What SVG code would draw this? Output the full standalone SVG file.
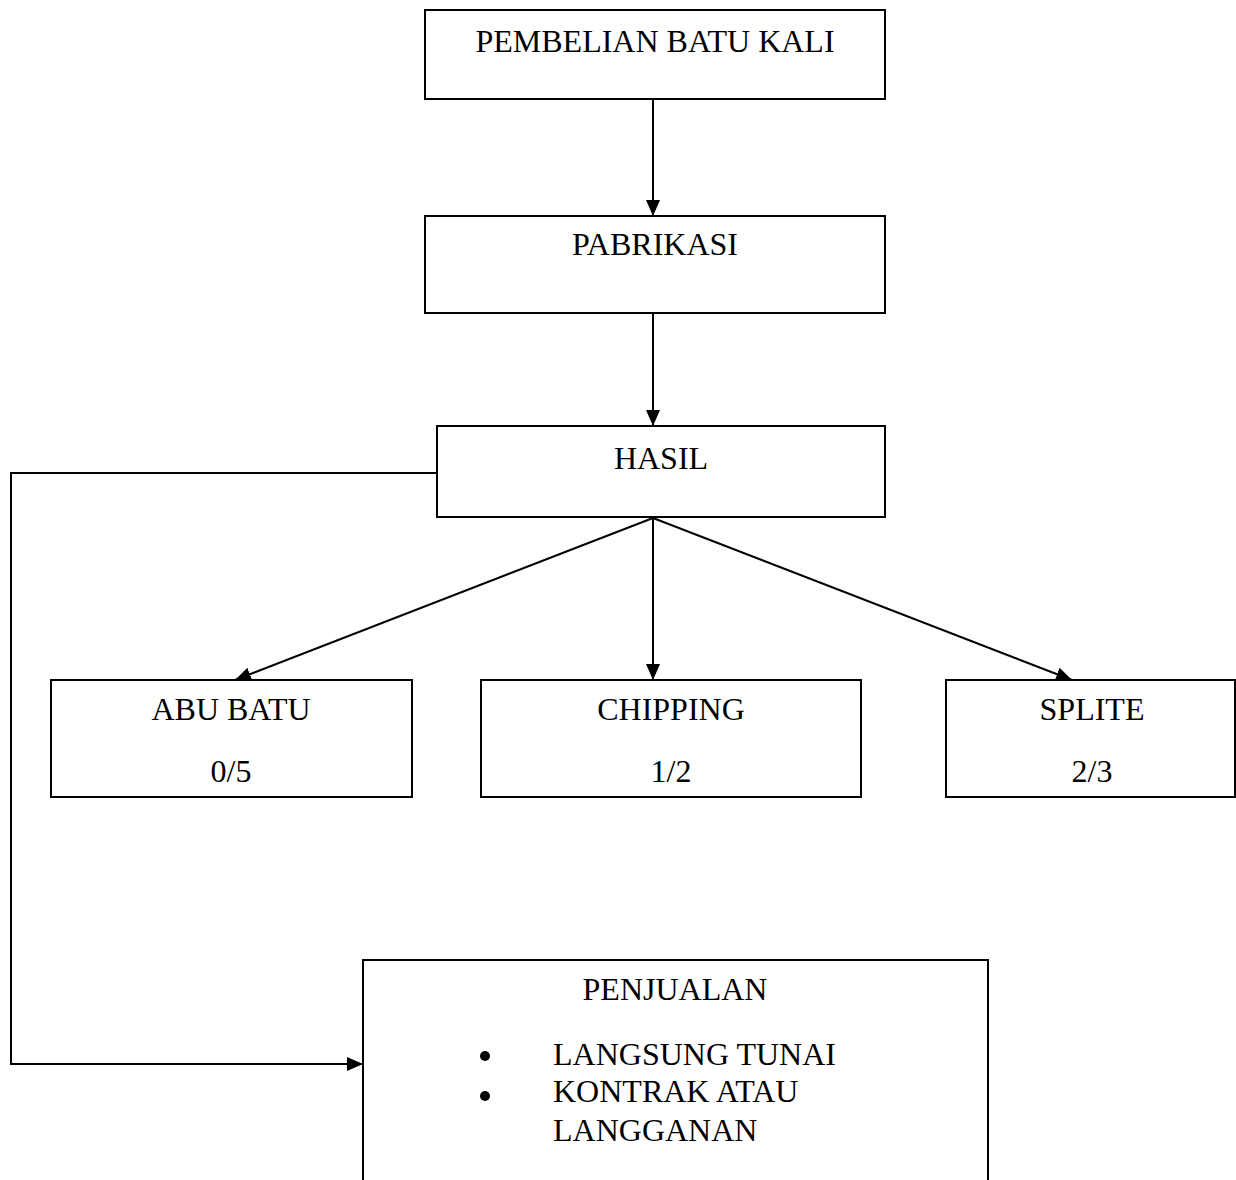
<svg xmlns="http://www.w3.org/2000/svg" width="1236" height="1180" viewBox="0 0 1236 1180">
<style>
.box{fill:#fff;stroke:#000;stroke-width:2}
.t{font-family:"Liberation Serif","Times New Roman",serif;font-size:32px;fill:#000}
.c{text-anchor:middle}
.ln{fill:none;stroke:#000;stroke-width:2}
</style>
<defs>
<marker id="ah" markerUnits="userSpaceOnUse" markerWidth="16" markerHeight="16" viewBox="0 0 16 16" refX="16" refY="8" orient="auto">
<path d="M0,1 L16,8 L0,15 Z" fill="#000"/>
</marker>
</defs>
<rect width="1236" height="1180" fill="#fff"/>
<g id="connectors">
<line class="ln" x1="653" y1="99" x2="653" y2="216" marker-end="url(#ah)"/>
<line class="ln" x1="653" y1="313" x2="653" y2="426" marker-end="url(#ah)"/>
<line class="ln" x1="653" y1="518" x2="235" y2="680" marker-end="url(#ah)"/>
<line class="ln" x1="653" y1="518" x2="653" y2="680" marker-end="url(#ah)"/>
<line class="ln" x1="653" y1="518" x2="1072" y2="680" marker-end="url(#ah)"/>
<polyline class="ln" points="437,473 11,473 11,1064 363,1064" marker-end="url(#ah)"/>
</g>
<g id="n-pembelian">
<rect class="box" x="425" y="10" width="460" height="89"/>
<text class="t c" x="655" y="52">PEMBELIAN BATU KALI</text>
</g>
<g id="n-pabrikasi">
<rect class="box" x="425" y="216" width="460" height="97"/>
<text class="t c" x="655" y="255">PABRIKASI</text>
</g>
<g id="n-hasil">
<rect class="box" x="437" y="426" width="448" height="91"/>
<text class="t c" x="661" y="469">HASIL</text>
</g>
<g id="n-abubatu">
<rect class="box" x="51" y="680" width="361" height="117"/>
<text class="t c" x="231" y="720">ABU BATU</text>
<text class="t c" x="231" y="782">0/5</text>
</g>
<g id="n-chipping">
<rect class="box" x="481" y="680" width="380" height="117"/>
<text class="t c" x="671" y="720">CHIPPING</text>
<text class="t c" x="671" y="782">1/2</text>
</g>
<g id="n-splite">
<rect class="box" x="946" y="680" width="289" height="117"/>
<text class="t c" x="1092" y="720">SPLITE</text>
<text class="t c" x="1092" y="782">2/3</text>
</g>
<g id="n-penjualan">
<rect class="box" x="363" y="960" width="625" height="240"/>
<text class="t c" x="675" y="1000">PENJUALAN</text>
<circle cx="485" cy="1056" r="5"/>
<circle cx="485" cy="1096" r="5"/>
<text class="t" x="553" y="1065">LANGSUNG TUNAI</text>
<text class="t" x="553" y="1102">KONTRAK ATAU</text>
<text class="t" x="553" y="1141">LANGGANAN</text>
</g>
</svg>
